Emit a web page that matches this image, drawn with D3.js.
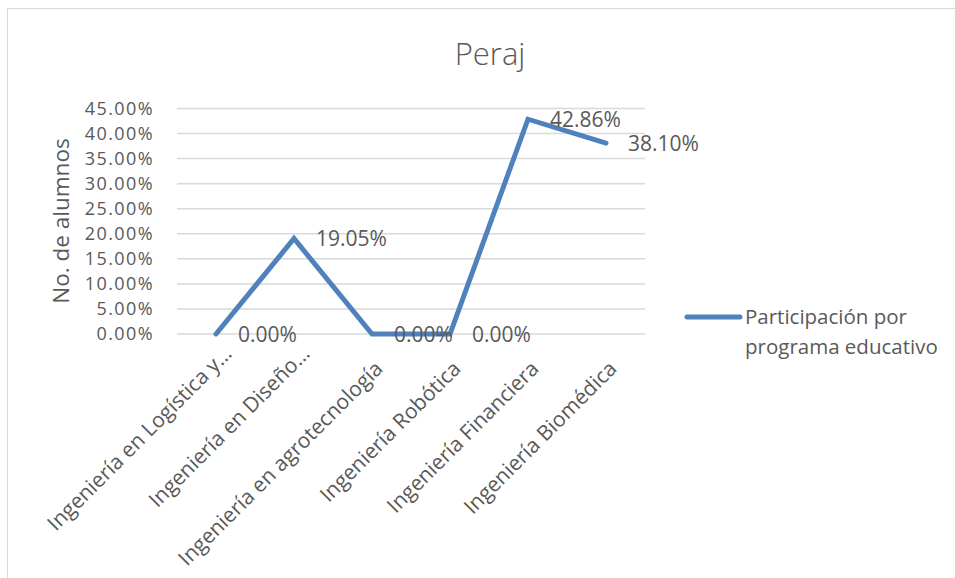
<!DOCTYPE html>
<html>
<head>
<meta charset="utf-8">
<script src="https://cdn.jsdelivr.net/npm/d3@7"></script>
<style>
  body { margin: 0; background: #fff; }
  text { font-family: "Open Sans", "Noto Sans", sans-serif; fill: #595959; }
</style>
</head>
<body>
<div id="chart"></div>
<script>
// datos del grafico
let programas = ["Ingeniería en Logística y…", "Ingeniería en Diseño…", "Ingeniería en agrotecnología",
    "Ingeniería Robótica", "Ingeniería Financiera", "Ingeniería Biomédica"];
let participacion = [0, 0.1905, 0, 0, 0.4286, 0.3810];
let yTicks = [0, 0.05, 0.10, 0.15, 0.20, 0.25, 0.30, 0.35, 0.40, 0.45];
let serieNombre = ["Participación por", "programa educativo"];

let width = 955, height = 578;
let margin = {top: 108.5, right: 310, bottom: 244, left: 177};

let svg = d3.select("#chart")
    .append("svg")
    .attr("width", width)
    .attr("height", height);

// marco
svg.append("rect")
    .attr("x", 7.5).attr("y", 8.5)
    .attr("width", width + 10).attr("height", height + 10)
    .attr("fill", "none")
    .attr("stroke", "#d9d9d9")
    .attr("stroke-width", 1);

let x = d3.scaleBand()
    .domain(programas)
    .range([margin.left, width - margin.right]);

let y = d3.scaleLinear()
    .domain([0, 0.45])
    .range([height - margin.bottom, margin.top]);

let fmt = d3.format(".2%");

// lineas de cuadricula
svg.selectAll(".grid")
    .data(yTicks)
    .enter()
    .append("line")
    .attr("class", "grid")
    .attr("x1", margin.left)
    .attr("x2", width - margin.right)
    .attr("y1", d => y(d))
    .attr("y2", d => y(d))
    .attr("stroke", "#d9d9d9")
    .attr("stroke-width", 1.5);

// eje y
let yAxis = svg.append("g")
    .attr("transform", "translate(" + margin.left + ",0)")
    .call(d3.axisLeft(y).tickValues(yTicks).tickFormat(fmt).tickSize(0).tickPadding(23));
yAxis.select(".domain").remove();
yAxis.selectAll("text")
    .style("font-size", "18px")
    .style("letter-spacing", "1.4px")
    .attr("fill", "#595959");

// eje x (las etiquetas recortadas con "…" quedan un poco mas arriba, como en Excel)
let xAxis = svg.append("g")
    .attr("transform", "translate(0," + y(0) + ")")
    .call(d3.axisBottom(x).tickSize(0));
xAxis.select(".domain").remove();
xAxis.selectAll("text")
    .style("font-size", "21px")
    .attr("fill", "#595959")
    .attr("text-anchor", "end")
    .attr("x", 0)
    .attr("y", 0)
    .attr("dy", 0)
    .attr("transform", function (d) {
        if (d.endsWith("…")) return "translate(17,21) rotate(-45)";
        return "translate(12,36) rotate(-45)";
    });

// titulo eje y
svg.append("text")
    .attr("transform", "translate(69,221) rotate(-90)")
    .attr("text-anchor", "middle")
    .style("font-size", "22.5px")
    .text("No. de alumnos");

// titulo
svg.append("text")
    .attr("x", 490)
    .attr("y", 65)
    .attr("text-anchor", "middle")
    .style("font-size", "31px")
    .style("font-weight", 300)
    .text("Peraj");

// linea
let line = d3.line()
    .x((d, i) => x(programas[i]) + x.bandwidth() / 2)
    .y(d => y(d));

svg.append("path")
    .datum(participacion)
    .attr("d", line)
    .attr("fill", "none")
    .attr("stroke", "#4f81bd")
    .attr("stroke-width", 5)
    .attr("stroke-linejoin", "miter")
    .attr("stroke-linecap", "round");

// etiquetas de datos
svg.selectAll(".etiqueta")
    .data(participacion)
    .enter()
    .append("text")
    .attr("class", "etiqueta")
    .attr("x", (d, i) => x(programas[i]) + x.bandwidth() / 2 + 22)
    .attr("y", d => y(d))
    .attr("dy", "0.36em")
    .style("font-size", "21px")
    .text(d => fmt(d));

// leyenda
let leyenda = svg.append("g").attr("transform", "translate(687,317)");
leyenda.append("line")
    .attr("x1", 0).attr("x2", 53)
    .attr("y1", 0).attr("y2", 0)
    .attr("stroke", "#4f81bd")
    .attr("stroke-width", 5)
    .attr("stroke-linecap", "round");
leyenda.selectAll("text")
    .data(serieNombre)
    .enter()
    .append("text")
    .attr("x", 58)
    .attr("y", (d, i) => 7 + i * 30)
    .style("font-size", "20.5px")
    .text(d => d);
</script>
</body>
</html>
